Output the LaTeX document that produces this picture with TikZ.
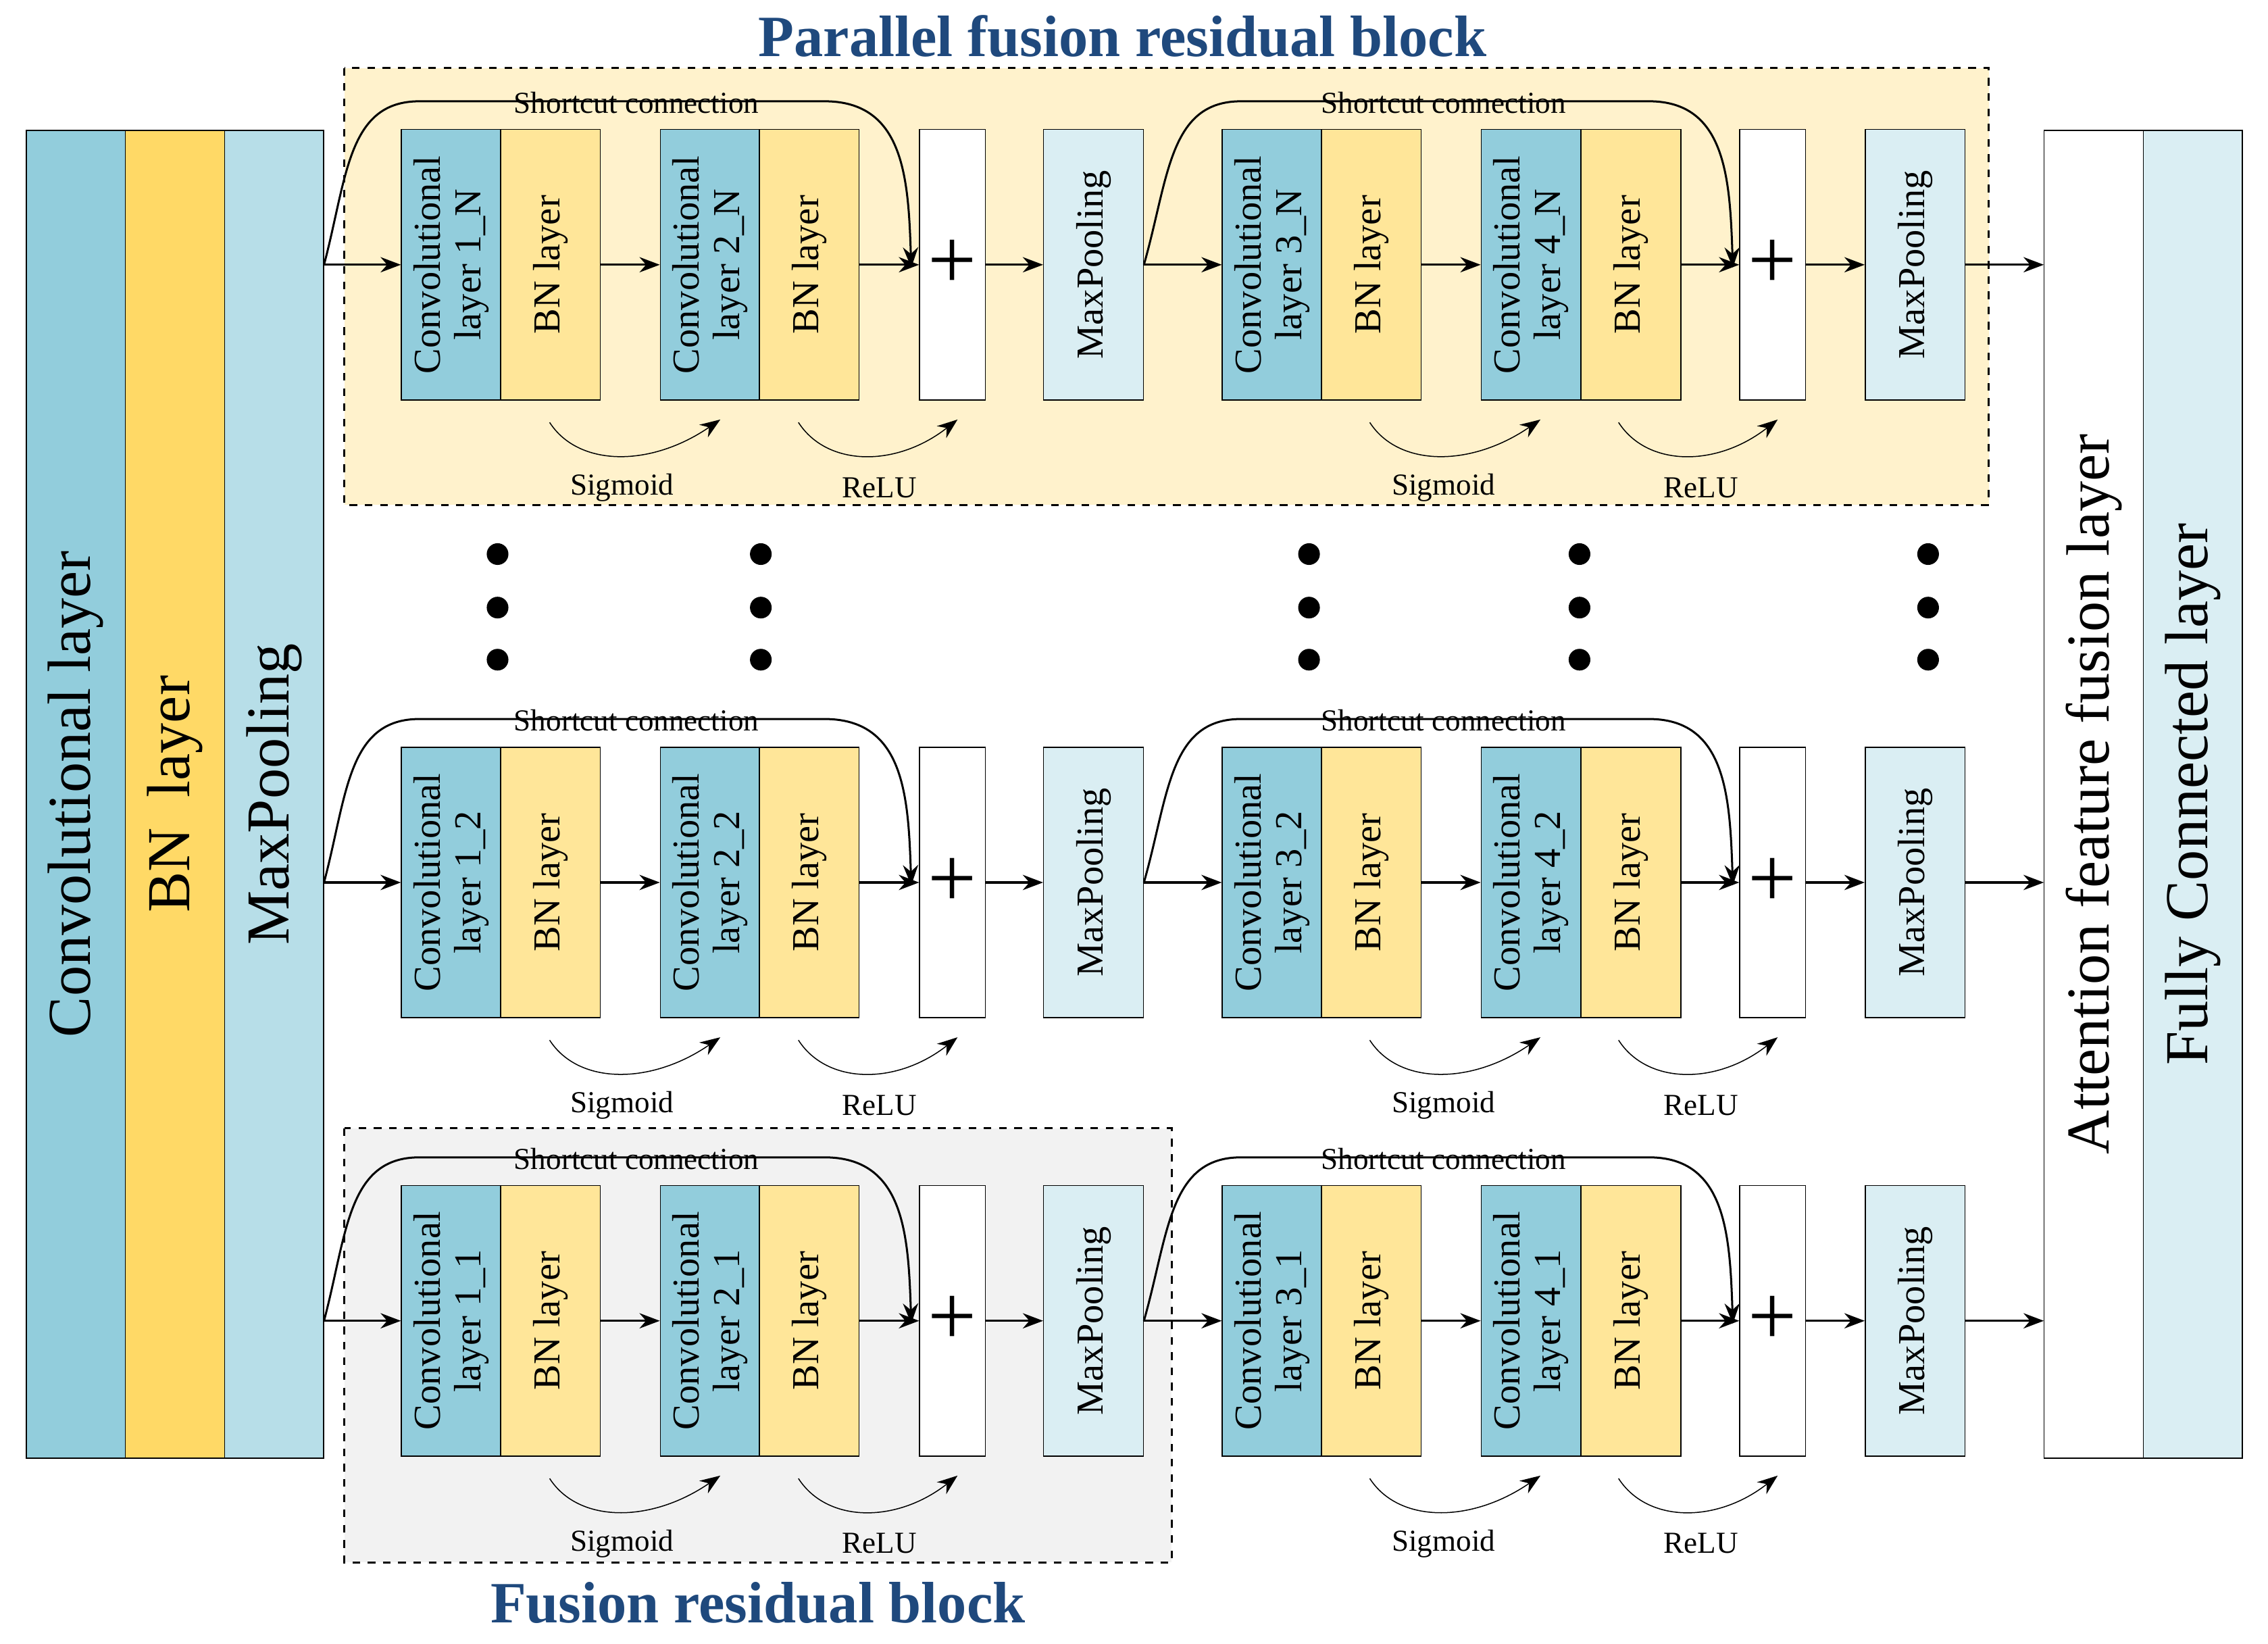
\documentclass[tikz,border=0pt]{standalone}
\usepackage{fontspec}
\setmainfont{Liberation Serif}
\usetikzlibrary{arrows.meta}
\definecolor{convc}{HTML}{92CDDC}
\definecolor{bnc}{HTML}{FFE699}
\definecolor{bnbig}{HTML}{FFD966}
\definecolor{mpc}{HTML}{DAEEF3}
\definecolor{mpbig}{HTML}{B7DEE8}
\definecolor{parc}{HTML}{FFF2CC}
\definecolor{fusc}{HTML}{F2F2F2}
\definecolor{titc}{HTML}{1F497D}
\tikzset{
  blk/.style={draw, rotate=90, minimum width=3.74cm, minimum height=1.38cm, inner sep=1pt, align=center, font=\fontsize{15}{16}\selectfont},
  big/.style={draw, rotate=90, minimum width=18.36cm, minimum height=1.37cm, font=\fontsize{24}{26}\selectfont},
  plus/.style={draw, fill=white, minimum width=0.9cm, minimum height=3.74cm, font=\fontsize{34}{34}\selectfont},
  flow/.style={-{Stealth[length=8pt,width=6pt]}, thick},
  act/.style={-{Stealth[length=8pt,width=6pt]}},
  lbl/.style={font=\fontsize{12}{13}\selectfont},
  dot/.style={circle, fill, inner sep=0pt, minimum size=0.3cm},
}
\begin{document}
\begin{tikzpicture}[x=0.02cm, y=-0.02cm]
\useasboundingbox (0,0) rectangle (1568,1136);
% block backgrounds
\draw[dashed, thick, fill=parc] (238,47) rectangle (1375,349);
\draw[dashed, thick, fill=fusc] (238,780) rectangle (810,1080);
\node[font=\fontsize{23}{25}\selectfont\bfseries, text=titc] (tpar) at (776,25) {Parallel fusion residual block};
\node[font=\fontsize{23}{25}\selectfont\bfseries, text=titc] (tfus) at (524,1108) {Fusion residual block};
% input and output stacks
\node[big, fill=convc] (conv0) at (52.5,549) {Convolutional layer};
\node[big, fill=bnbig] (bn0) at (121,549) {BN\ \ layer};
\node[big, fill=mpbig] (mp0) at (189.5,549) {MaxPooling};
\node[big, fill=white] (att) at (1447.5,549) {Attention feature fusion layer};
\node[big, fill=mpc] (fc) at (1516,549) {Fully Connected layer};
% rows
\foreach \r/\yc/\lab in {t/183/N, m/610/2, b/913/1}{
  \coordinate (s\r) at (224,\yc);
  \coordinate (o\r) at (1413,\yc);
  \node[blk, fill=convc] (ca\r) at (312,\yc) {Convolutional\\layer 1\_\lab};
  \node[blk, fill=bnc] (ba\r) at (380.5,\yc) {BN layer};
  \node[blk, fill=convc] (cb\r) at (491,\yc) {Convolutional\\layer 2\_\lab};
  \node[blk, fill=bnc] (bb\r) at (559.5,\yc) {BN layer};
  \node[plus] (pa\r) at (658.5,\yc) {+};
  \node[blk, fill=mpc] (ma\r) at (756,\yc) {MaxPooling};
  \node[blk, fill=convc] (cc\r) at (879.5,\yc) {Convolutional\\layer 3\_\lab};
  \node[blk, fill=bnc] (bc\r) at (948,\yc) {BN layer};
  \node[blk, fill=convc] (cd\r) at (1058.5,\yc) {Convolutional\\layer 4\_\lab};
  \node[blk, fill=bnc] (bd\r) at (1127.5,\yc) {BN layer};
  \node[plus] (pb\r) at (1225.5,\yc) {+};
  \node[blk, fill=mpc] (mb\r) at (1324,\yc) {MaxPooling};
  % main flow
  \draw[flow] (s\r) -- (ca\r.north);
  \draw[flow] (ba\r.south) -- (cb\r.north);
  \draw[flow] (bb\r.south) -- (pa\r);
  \draw[flow] (pa\r) -- (ma\r.north);
  \draw[flow] (ma\r.south) -- (cc\r.north);
  \draw[flow] (bc\r.south) -- (cd\r.north);
  \draw[flow] (bd\r.south) -- (pb\r);
  \draw[flow] (pb\r) -- (mb\r.north);
  \draw[flow] (mb\r.south) -- (o\r);
  % shortcuts
  \draw[flow] (s\r) .. controls (240,\yc-60) and (240,\yc-113) .. (290,\yc-113)
    -- (570,\yc-113) .. controls (625,\yc-113) and (628,\yc-60) .. (630,\yc+2);
  \node[lbl] (sca\r) at (440,\yc-112) {Shortcut connection};
  \draw[flow] (ma\r.south) .. controls (808,\yc-60) and (808,\yc-113) .. (858,\yc-113)
    -- (1140,\yc-113) .. controls (1193,\yc-113) and (1196,\yc-60) .. (1198,\yc+2);
  \node[lbl] (scb\r) at (998,\yc-112) {Shortcut connection};
  % activations
  \draw[act] (380,\yc+109) .. controls (400,\yc+140) and (450,\yc+140) .. (498,\yc+107);
  \node[lbl] (sga\r) at (430,\yc+154) {Sigmoid};
  \draw[act] (552,\yc+109) .. controls (572,\yc+140) and (620,\yc+140) .. (662,\yc+107);
  \node[lbl] (rla\r) at (608,\yc+154) {ReLU};
  \draw[act] (947,\yc+109) .. controls (967,\yc+140) and (1017,\yc+140) .. (1065,\yc+107);
  \node[lbl] (sgb\r) at (998,\yc+154) {Sigmoid};
  \draw[act] (1119,\yc+109) .. controls (1139,\yc+140) and (1187,\yc+140) .. (1229,\yc+107);
  \node[lbl] (rlb\r) at (1176,\yc+154) {ReLU};
}
% ellipsis dots
\foreach \x in {344,526,905,1092,1333}{
  \foreach \y in {383,420,456}{
    \node[dot] at (\x,\y) {};
  }
}
\end{tikzpicture}
\end{document}
